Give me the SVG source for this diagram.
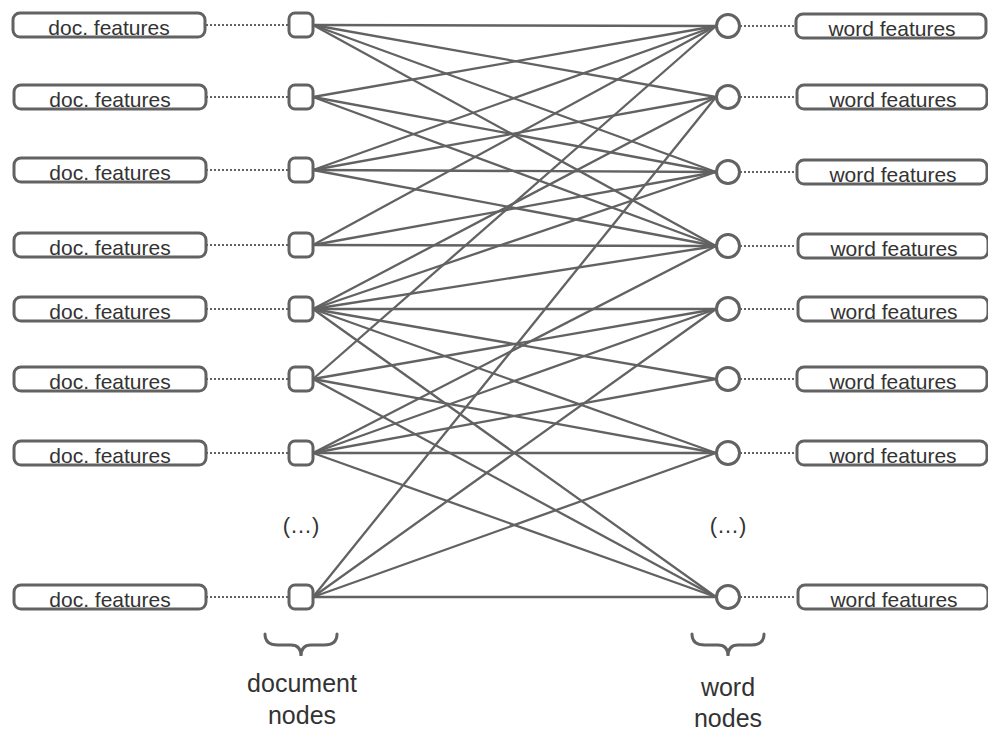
<svg xmlns="http://www.w3.org/2000/svg" width="988" height="731" viewBox="0 0 988 731">
  <style>
    .box { fill: #ffffff; stroke: #626262; stroke-width: 3; }
    .dnode { fill: #ffffff; stroke: #626262; stroke-width: 3; }
    .wnode { fill: #ffffff; stroke: #626262; stroke-width: 3; }
    .dot { stroke: #626262; stroke-width: 2; stroke-dasharray: 2 2; fill: none; }
    .edge { stroke: #626262; stroke-width: 2.3; fill: none; }
    .feat { font-family: "Liberation Sans", Arial, sans-serif; font-size: 21px; fill: #333333; text-anchor: middle; }
    .lbl { font-family: "Liberation Sans", Arial, sans-serif; font-size: 25px; fill: #333333; text-anchor: middle; }
    .more { font-family: "Liberation Sans", Arial, sans-serif; font-size: 22px; fill: #333333; text-anchor: middle; }
    .brace { stroke: #626262; stroke-width: 3; fill: none; stroke-linecap: round; }
  </style>

  <!-- connectors: document node -> word node -->
  <g id="edges">
    <!-- D1 -->
    <line class="edge" x1="313" y1="25" x2="716" y2="26"/>
    <line class="edge" x1="313" y1="25" x2="716" y2="97"/>
    <line class="edge" x1="313" y1="25" x2="716" y2="172"/>
    <line class="edge" x1="313" y1="25" x2="716" y2="246"/>
    <!-- D2 -->
    <line class="edge" x1="313" y1="97" x2="716" y2="26"/>
    <line class="edge" x1="313" y1="97" x2="716" y2="172"/>
    <line class="edge" x1="313" y1="97" x2="716" y2="246"/>
    <!-- D3 -->
    <line class="edge" x1="313" y1="170" x2="716" y2="26" stroke-width="3.4"/>
    <line class="edge" x1="313" y1="170" x2="716" y2="97"/>
    <line class="edge" x1="313" y1="170" x2="716" y2="172"/>
    <line class="edge" x1="313" y1="170" x2="716" y2="246"/>
    <!-- D4 -->
    <line class="edge" x1="313" y1="245" x2="716" y2="26"/>
    <line class="edge" x1="313" y1="245" x2="716" y2="172"/>
    <line class="edge" x1="313" y1="245" x2="716" y2="246"/>
    <!-- D5 -->
    <line class="edge" x1="313" y1="309" x2="716" y2="97"/>
    <line class="edge" x1="313" y1="309" x2="716" y2="172"/>
    <line class="edge" x1="313" y1="309" x2="716" y2="246"/>
    <line class="edge" x1="313" y1="309" x2="716" y2="309"/>
    <line class="edge" x1="313" y1="309" x2="716" y2="379"/>
    <line class="edge" x1="313" y1="309" x2="716" y2="453"/>
    <line class="edge" x1="313" y1="309" x2="716" y2="597"/>
    <!-- D6 -->
    <line class="edge" x1="313" y1="379" x2="716" y2="26"/>
    <line class="edge" x1="313" y1="379" x2="716" y2="309"/>
    <line class="edge" x1="313" y1="379" x2="716" y2="453"/>
    <line class="edge" x1="313" y1="379" x2="716" y2="597"/>
    <!-- D7 -->
    <line class="edge" x1="313" y1="453" x2="716" y2="246"/>
    <line class="edge" x1="313" y1="453" x2="716" y2="309"/>
    <line class="edge" x1="313" y1="453" x2="716" y2="379"/>
    <line class="edge" x1="313" y1="453" x2="716" y2="453"/>
    <line class="edge" x1="313" y1="453" x2="716" y2="597"/>
    <!-- D8 -->
    <line class="edge" x1="313" y1="597" x2="716" y2="97"/>
    <line class="edge" x1="313" y1="597" x2="716" y2="309"/>
    <line class="edge" x1="313" y1="597" x2="716" y2="453"/>
    <line class="edge" x1="313" y1="597" x2="716" y2="597"/>
  </g>

  <!-- dotted links between feature boxes and nodes -->
  <g id="feature-links">
    <line class="dot" x1="206" y1="25" x2="289" y2="25"/>
    <line class="dot" x1="206" y1="97" x2="289" y2="97"/>
    <line class="dot" x1="206" y1="170" x2="289" y2="170"/>
    <line class="dot" x1="206" y1="245" x2="289" y2="245"/>
    <line class="dot" x1="206" y1="309" x2="289" y2="309"/>
    <line class="dot" x1="206" y1="379" x2="289" y2="379"/>
    <line class="dot" x1="206" y1="453" x2="289" y2="453"/>
    <line class="dot" x1="206" y1="597" x2="289" y2="597"/>
    <line class="dot" x1="740" y1="26" x2="796" y2="26"/>
    <line class="dot" x1="740" y1="97" x2="796" y2="97"/>
    <line class="dot" x1="740" y1="172" x2="796" y2="172"/>
    <line class="dot" x1="740" y1="246" x2="796" y2="246"/>
    <line class="dot" x1="740" y1="309" x2="796" y2="309"/>
    <line class="dot" x1="740" y1="379" x2="796" y2="379"/>
    <line class="dot" x1="740" y1="453" x2="796" y2="453"/>
    <line class="dot" x1="740" y1="597" x2="796" y2="597"/>
  </g>

  <!-- document feature boxes -->
  <g id="doc-feat-1"><rect class="box" x="13" y="13" width="192" height="24" rx="7"/><text class="feat" x="109" y="35">doc. features</text></g>
  <g id="doc-feat-2"><rect class="box" x="14" y="85" width="192" height="24" rx="7"/><text class="feat" x="110" y="107">doc. features</text></g>
  <g id="doc-feat-3"><rect class="box" x="14" y="158" width="192" height="24" rx="7"/><text class="feat" x="110" y="180">doc. features</text></g>
  <g id="doc-feat-4"><rect class="box" x="14" y="233" width="192" height="24" rx="7"/><text class="feat" x="110" y="255">doc. features</text></g>
  <g id="doc-feat-5"><rect class="box" x="14" y="297" width="192" height="24" rx="7"/><text class="feat" x="110" y="319">doc. features</text></g>
  <g id="doc-feat-6"><rect class="box" x="14" y="367" width="192" height="24" rx="7"/><text class="feat" x="110" y="389">doc. features</text></g>
  <g id="doc-feat-7"><rect class="box" x="14" y="441" width="192" height="24" rx="7"/><text class="feat" x="110" y="463">doc. features</text></g>
  <g id="doc-feat-8"><rect class="box" x="14" y="585" width="192" height="24" rx="7"/><text class="feat" x="110" y="607">doc. features</text></g>

  <!-- document nodes -->
  <g id="doc-node-1"><rect class="dnode" x="289" y="13" width="24" height="24" rx="6"/></g>
  <g id="doc-node-2"><rect class="dnode" x="289" y="85" width="24" height="24" rx="6"/></g>
  <g id="doc-node-3"><rect class="dnode" x="289" y="158" width="24" height="24" rx="6"/></g>
  <g id="doc-node-4"><rect class="dnode" x="289" y="233" width="24" height="24" rx="6"/></g>
  <g id="doc-node-5"><rect class="dnode" x="289" y="297" width="24" height="24" rx="6"/></g>
  <g id="doc-node-6"><rect class="dnode" x="289" y="367" width="24" height="24" rx="6"/></g>
  <g id="doc-node-7"><rect class="dnode" x="289" y="441" width="24" height="24" rx="6"/></g>
  <g id="doc-node-8"><rect class="dnode" x="289" y="585" width="24" height="24" rx="6"/></g>

  <!-- word nodes -->
  <g id="word-node-1"><circle class="wnode" cx="728" cy="26" r="11.5"/></g>
  <g id="word-node-2"><circle class="wnode" cx="728" cy="97" r="11.5"/></g>
  <g id="word-node-3"><circle class="wnode" cx="728" cy="172" r="11.5"/></g>
  <g id="word-node-4"><circle class="wnode" cx="728" cy="246" r="11.5"/></g>
  <g id="word-node-5"><circle class="wnode" cx="728" cy="309" r="11.5"/></g>
  <g id="word-node-6"><circle class="wnode" cx="728" cy="379" r="11.5"/></g>
  <g id="word-node-7"><circle class="wnode" cx="728" cy="453" r="11.5"/></g>
  <g id="word-node-8"><circle class="wnode" cx="728" cy="597" r="11.5"/></g>

  <!-- word feature boxes -->
  <g id="word-feat-1"><rect class="box" x="796" y="14" width="190" height="24" rx="7"/><text class="feat" x="892" y="36">word features</text></g>
  <g id="word-feat-2"><rect class="box" x="797" y="85" width="190" height="24" rx="7"/><text class="feat" x="893" y="107">word features</text></g>
  <g id="word-feat-3"><rect class="box" x="797" y="160" width="190" height="24" rx="7"/><text class="feat" x="893" y="182">word features</text></g>
  <g id="word-feat-4"><rect class="box" x="798" y="234" width="190" height="24" rx="7"/><text class="feat" x="894" y="256">word features</text></g>
  <g id="word-feat-5"><rect class="box" x="798" y="297" width="190" height="24" rx="7"/><text class="feat" x="894" y="319">word features</text></g>
  <g id="word-feat-6"><rect class="box" x="797" y="367" width="190" height="24" rx="7"/><text class="feat" x="893" y="389">word features</text></g>
  <g id="word-feat-7"><rect class="box" x="797" y="441" width="190" height="24" rx="7"/><text class="feat" x="893" y="463">word features</text></g>
  <g id="word-feat-8"><rect class="box" x="798" y="585" width="190" height="24" rx="7"/><text class="feat" x="894" y="607">word features</text></g>

  <!-- elision marks -->
  <text class="more" x="301" y="533">(…)</text>
  <text class="more" x="728" y="533">(…)</text>

  <!-- group braces and captions -->
  <g id="doc-caption">
    <path class="brace" d="M265,634 Q265,645 278,645 L291,645 Q301,645 301,656 Q301,645 311,645 L324,645 Q337,645 337,634"/>
    <text class="lbl" x="302" y="692">document</text>
    <text class="lbl" x="302" y="724">nodes</text>
  </g>
  <g id="word-caption">
    <path class="brace" d="M692,634 Q692,645 705,645 L718,645 Q728,645 728,656 Q728,645 738,645 L751,645 Q764,645 764,634"/>
    <text class="lbl" x="728" y="696">word</text>
    <text class="lbl" x="728" y="727">nodes</text>
  </g>
</svg>
